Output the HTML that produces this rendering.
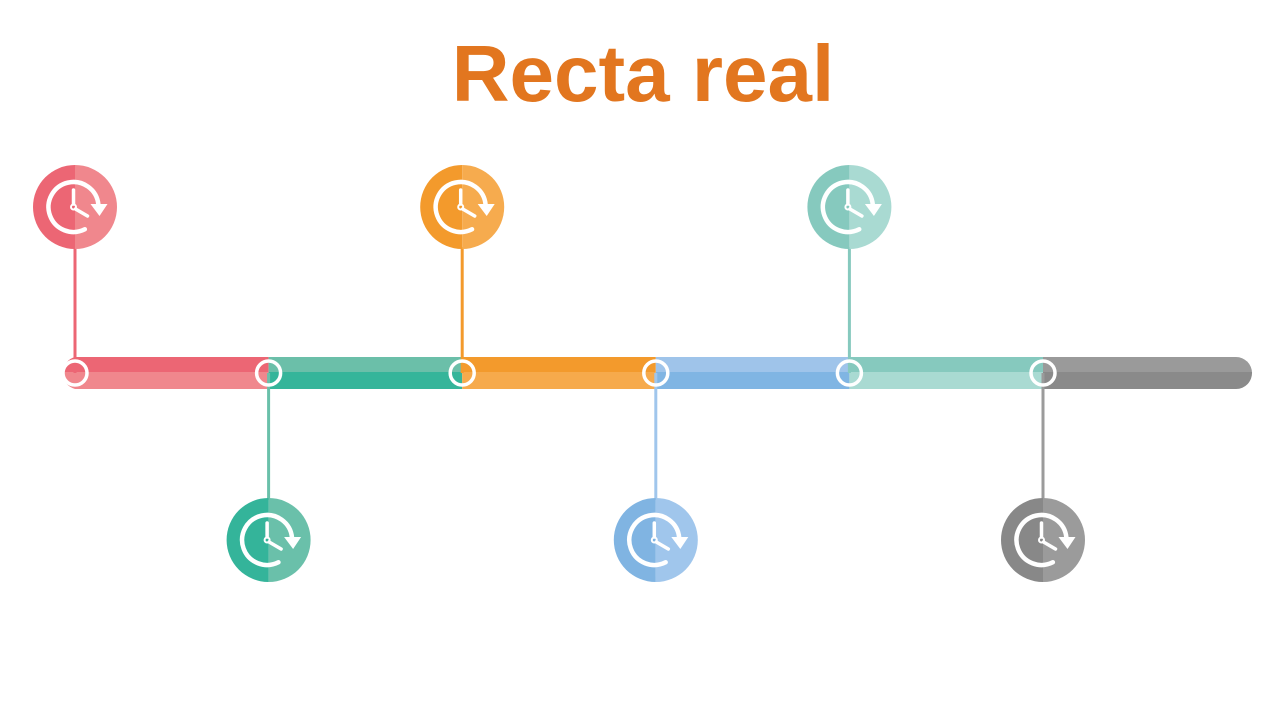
<!DOCTYPE html>
<html><head><meta charset="utf-8"><style>
html,body{margin:0;padding:0;background:#fff;}
#wrap{position:relative;width:1280px;height:720px;overflow:hidden;}
#title{position:absolute;left:0;width:1286px;top:28px;text-align:center;font:bold 80px "Liberation Sans",sans-serif;color:#e2761f;margin:0;}
svg{position:absolute;left:0;top:0;}
</style></head><body>
<div id="wrap">
<h1 id="title">Recta real</h1>
<svg id="chart" width="1280" height="720"></svg>
</div>
<script>
const milestones = ["m1","m2","m3","m4","m5","m6"];
const positions = [0,1,2,3,4,5];
const sides = ["up","down","up","down","up","down"];
const topColors = ["#ec6674","#6bbfa9","#f39a2c","#9fc4ea","#86c9be","#9a9a9a"];
const bottomColors = ["#f0878d","#35b59a","#f6aa4c","#80b5e3","#a9dad2","#8a8a8a"];
const leftColors = ["#ec6674","#34b49a","#f39a2c","#80b4e2","#86c9be","#888888"];
const rightColors = ["#f0878d","#6ac0aa","#f6ab4e","#a0c6ec","#a9dad2","#9b9b9b"];

const NS="http://www.w3.org/2000/svg";
const svg=document.getElementById('chart');
const x0=75, step=193.6, barTop=357, barMid=372, barBot=389, endX=1252;
const xPos=i=>x0+i*step;
function el(t,a,p){const e=document.createElementNS(NS,t);for(const k in a)e.setAttribute(k,a[k]);(p||svg).appendChild(e);return e;}

positions.forEach((p,i)=>{
  const xa=xPos(p), xb=(i===positions.length-1)?endX-16:xPos(p+1);
  const g=el('g',{});
  
  
  if(i===0){
    el('path',{d:`M${xa} ${barTop} A16 16 0 0 0 ${xa-12} ${barMid} L${xa} ${barMid}Z`,fill:topColors[i]},g);
    el('path',{d:`M${xa} ${barMid} L${xa-12} ${barMid} A16 16 0 0 0 ${xa} ${barBot}Z`,fill:bottomColors[i]},g);
  }
  el('rect',{x:xa,y:barTop,width:xb-xa,height:barMid-barTop,fill:topColors[i]},g);
  el('rect',{x:xa,y:barMid,width:xb-xa,height:barBot-barMid,fill:bottomColors[i]},g);
  if(i===positions.length-1){
    el('path',{d:`M${xb} ${barTop} A16 16 0 0 1 ${xb+16} ${barMid+1} L${xb} ${barMid+1}Z`,fill:topColors[i]},g);
    el('path',{d:`M${xb} ${barMid} L${xb+16} ${barMid} A16 16 0 0 1 ${xb} ${barBot}Z`,fill:bottomColors[i]},g);
  }
});

milestones.forEach((m,i)=>{
  const cx=xPos(positions[i]);
  const up=sides[i]==="up";
  const cy=up?207:540;
  const g=el('g',{});
  
  
  const ln=el('line',{x1:cx,y1:up?cy+40:373,x2:cx,y2:up?373:cy-40,stroke:up?leftColors[i]:rightColors[i],'stroke-width':3},g);
  
  
  const nd=el('circle',{cx:cx,cy:373,r:12,fill:'none',stroke:'#fff','stroke-width':3.5},g);
  
  
  const r=42;
  el('path',{d:`M${cx} ${cy-r} A${r} ${r} 0 0 0 ${cx} ${cy+r}Z`,fill:leftColors[i]},g);
  el('path',{d:`M${cx} ${cy-r} A${r} ${r} 0 0 1 ${cx} ${cy+r}Z`,fill:rightColors[i]},g);
  const ic=el('g',{fill:'none',stroke:'#fff','stroke-width':4.5,'stroke-linecap':'round'},g);
  
  
  const icx=cx-1.5, icy=cy, R=25;
  const sx=icx+R*Math.cos(-0.1), sy=icy+R*Math.sin(-0.1);
  const ex=icx+R*Math.cos(1.1), ey=icy+R*Math.sin(1.1);
  el('path',{d:`M${sx} ${sy} A${R} ${R} 0 1 0 ${ex} ${ey}`},ic);
  el('path',{d:`M${icx+R-8} ${icy-3} L${icx+R+1} ${icy+9} L${icx+R+9} ${icy-3}Z`,fill:'#fff',stroke:'none'},g);
  el('path',{d:`M${icx} ${icy-17} L${icx} ${icy-3} M${icx+2} ${icy+2} L${icx+14} ${icy+9}`,'stroke-width':3.5},ic);
  el('circle',{cx:icx,cy:icy,r:2.5,'stroke-width':2},ic);
});
</script>
</body></html>
